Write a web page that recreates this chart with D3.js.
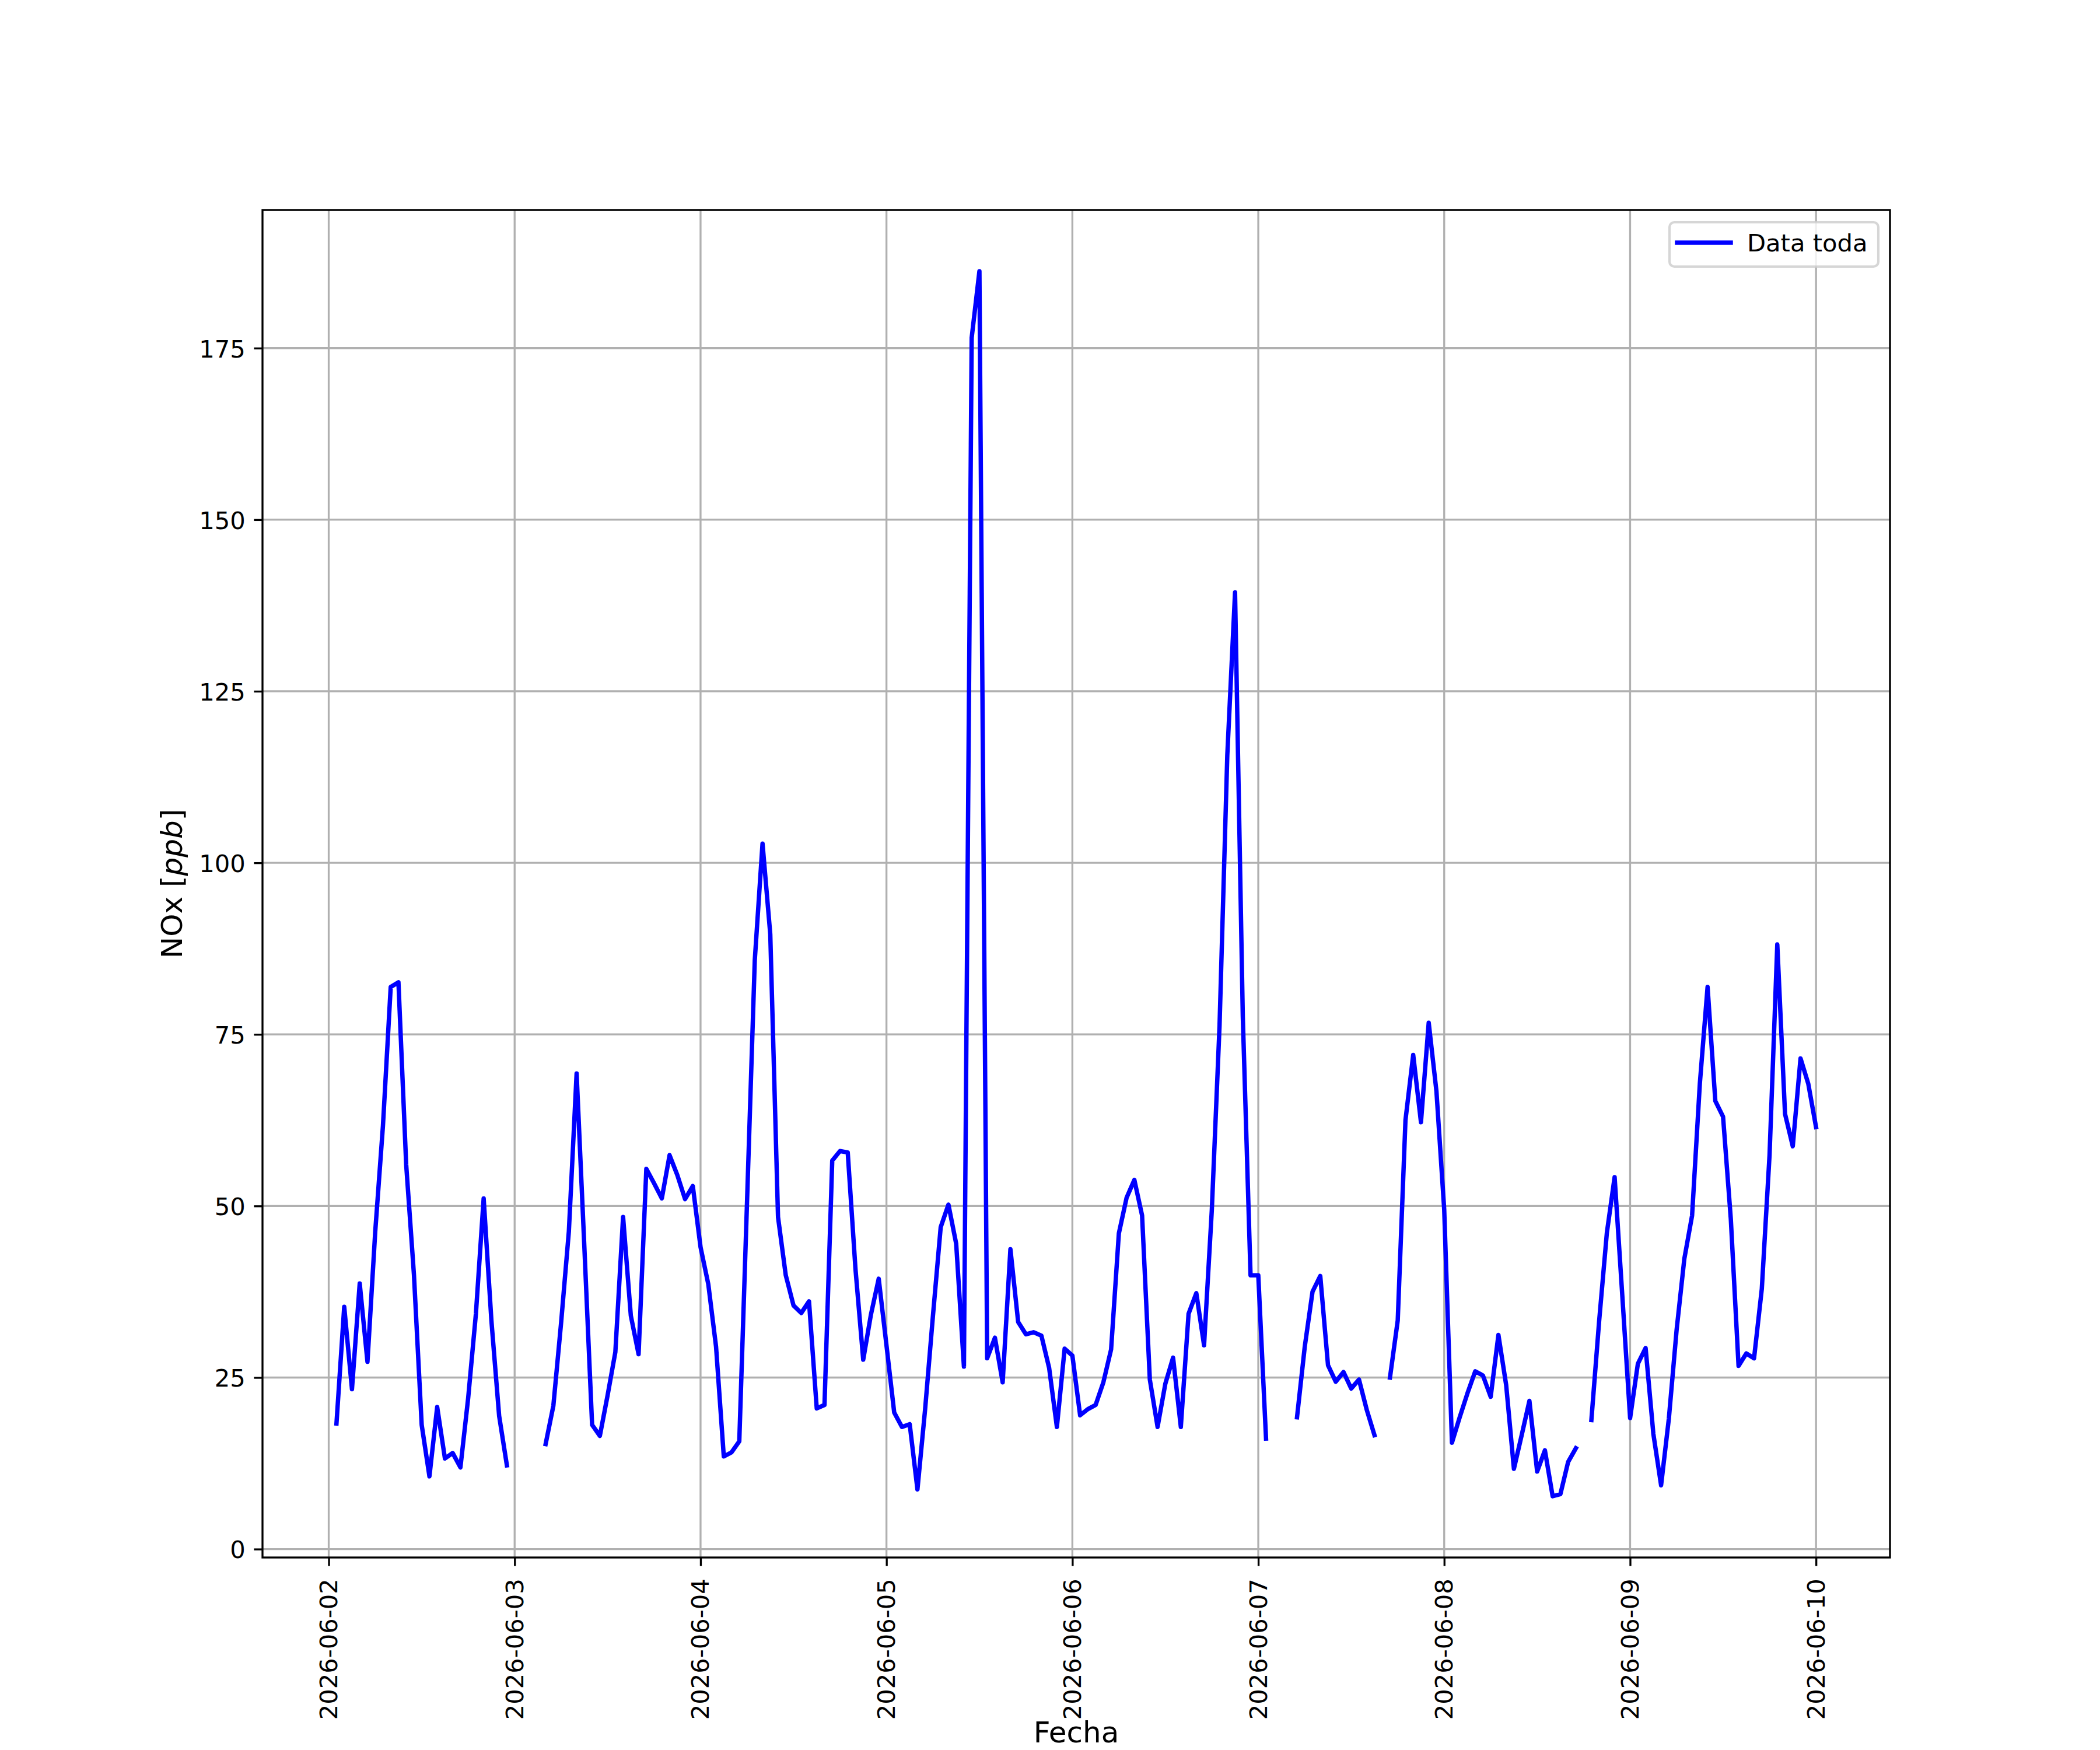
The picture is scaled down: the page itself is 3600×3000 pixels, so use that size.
<!DOCTYPE html>
<html>
<head>
<meta charset="utf-8">
<script src="https://cdn.jsdelivr.net/npm/d3@7"></script>
<style>
  body { margin: 0; background: #fff; }
  text { font-family: "DejaVu Sans", sans-serif; }
</style>
</head>
<body>
<script>
// hourly NOx readings, one array per day (hour 0..23), null = missing hour
const days = ["2026-06-02", "2026-06-03", "2026-06-04", "2026-06-05",
              "2026-06-06", "2026-06-07", "2026-06-08", "2026-06-09", "2026-06-10"];
const nox_0602 = [null, 18.3, 35.3, 23.3, 38.7, 27.3, 46.2, 61.7, 81.9, 82.6, 56.0, 40.0,
                  18.1, 10.6, 20.7, 13.2, 14.0, 11.9, 22.0, 34.3, 51.1, 33.3, 19.4, 12.2];
const nox_0603 = [null, null, null, null, 15.3, 20.9, 33.0, 46.3, 69.3, 44.0, 18.1, 16.5,
                  22.4, 28.7, 48.4, 34.0, 28.4, 55.4, 53.3, 51.1, 57.4, 54.5, 51.0, 52.9];
const nox_0604 = [44.0, 38.6, 29.5, 13.5, 14.1, 15.7, 50.6, 85.8, 102.8, 89.6, 48.4, 39.9,
                  35.5, 34.4, 36.1, 20.5, 21.0, 56.6, 58.0, 57.8, 40.8, 27.6, 34.2, 39.4];
const nox_0605 = [29.7, 19.9, 17.8, 18.2, 8.7, 20.5, 34.0, 46.9, 50.2, 44.5, 26.6, 176.5,
                  186.2, 27.8, 30.8, 24.3, 43.7, 33.1, 31.3, 31.6, 31.1, 26.4, 17.8, 29.2];
const nox_0606 = [28.2, 19.5, 20.4, 21.0, 24.3, 29.1, 46.0, 51.2, 53.8, 48.6, 24.7, 17.8,
                  24.1, 27.9, 17.8, 34.3, 37.3, 29.7, 49.4, 76.3, 115.7, 139.4, 77.6, 39.9];
const nox_0607 = [39.9, 16.1, null, null, null, 19.2, 29.5, 37.5, 39.8, 26.8, 24.4, 25.8,
                  23.4, 24.7, 20.3, 16.6, null, 25.0, 33.3, 62.5, 72.0, 62.2, 76.7, 66.7];
const nox_0608 = [49.5, 15.5, 19.2, 22.7, 25.9, 25.3, 22.2, 31.2, 23.9, 11.7, 16.6, 21.6,
                  11.3, 14.4, 7.7, 8.0, 12.7, 14.7, null, 18.8, 33.2, 46.1, 54.2, 36.8];
const nox_0609 = [19.1, 27.0, 29.3, 16.8, 9.3, 19.0, 31.9, 42.3, 48.6, 67.8, 81.9, 65.3,
                  63.0, 48.1, 26.7, 28.5, 27.8, 37.9, 57.4, 88.1, 63.4, 58.7, 71.5, 67.8];
const nox_0610 = [61.5];
const yTicks = [0, 25, 50, 75, 100, 125, 150, 175];
const seriesName = "Data toda";

const W = 3600, H = 3000;
const mLeft = 450, mRight = 3240, mTop = 360, mBottom = 2670;
const fs = 41.67;          // 10pt @ 300 dpi
const fsLabel = 50;        // 12pt @ 300 dpi
const lw = 3.33;           // 0.8pt
const tickLen = 14.6, tickPad = 14.6;

let series = [];
[nox_0602, nox_0603, nox_0604, nox_0605, nox_0606, nox_0607, nox_0608, nox_0609, nox_0610]
  .forEach((arr, d) => arr.forEach((v, h) => {
    series.push({t: new Date(Date.UTC(2026, 5, 2 + d, h)), v: v});
  }));
let valid = series.filter(d => d.v !== null);

let svg = d3.select("body").append("svg")
  .attr("width", W).attr("height", H)
  .attr("viewBox", `0 0 ${W} ${H}`);
svg.append("rect").attr("width", W).attr("height", H).attr("fill", "#fff");

// scales (matplotlib style 5% margins)
let tExt = d3.extent(valid, d => +d.t);
let tPad = (tExt[1] - tExt[0]) * 0.05;
let x = d3.scaleUtc().domain([new Date(tExt[0] - tPad), new Date(tExt[1] + tPad)]).range([mLeft, mRight]);
let vExt = d3.extent(valid, d => d.v);
let vPad = (vExt[1] - vExt[0]) * 0.05;
let y = d3.scaleLinear().domain([vExt[0] - vPad, vExt[1] + vPad]).range([mBottom, mTop]);

let dayDates = days.map(s => new Date(s + "T00:00:00Z"));

// gridlines
let grid = svg.append("g").attr("class", "grid")
  .attr("stroke", "#b0b0b0").attr("stroke-width", lw);
grid.selectAll("line.gx").data(dayDates).enter().append("line")
  .attr("x1", d => x(d)).attr("x2", d => x(d))
  .attr("y1", mTop).attr("y2", mBottom);
grid.selectAll("line.gy").data(yTicks).enter().append("line")
  .attr("x1", mLeft).attr("x2", mRight)
  .attr("y1", d => y(d)).attr("y2", d => y(d));

// data line
let line = d3.line()
  .defined(d => d.v !== null)
  .x(d => x(d.t))
  .y(d => y(d.v));
svg.append("path").datum(series)
  .attr("d", line)
  .attr("fill", "none")
  .attr("stroke", "#0000ff")
  .attr("stroke-width", 7.5)
  .attr("stroke-linejoin", "round")
  .attr("stroke-linecap", "square");

// x axis
let axX = svg.append("g").attr("transform", `translate(0, ${mBottom})`)
  .call(d3.axisBottom(x).tickValues(dayDates)
    .tickFormat(d3.utcFormat("%Y-%m-%d"))
    .tickSize(tickLen).tickSizeOuter(0));
axX.select(".domain").remove();
axX.selectAll(".tick line").attr("stroke", "#000").attr("stroke-width", lw);
axX.selectAll(".tick text")
  .attr("x", null).attr("y", null).attr("dy", null)
  .attr("fill", "#000")
  .style("font-size", fs + "px")
  .style("font-family", "DejaVu Sans")
  .attr("text-anchor", "end")
  .attr("transform", `translate(14, ${tickLen + tickPad + 7}) rotate(-90)`);

// y axis
let axY = svg.append("g").attr("transform", `translate(${mLeft}, 0)`)
  .call(d3.axisLeft(y).tickValues(yTicks)
    .tickFormat(d3.format("d"))
    .tickSize(tickLen).tickPadding(tickPad).tickSizeOuter(0));
axY.select(".domain").remove();
axY.selectAll(".tick line").attr("stroke", "#000").attr("stroke-width", lw);
axY.selectAll(".tick text")
  .attr("dy", 15.3)
  .attr("fill", "#000")
  .style("font-size", fs + "px")
  .style("font-family", "DejaVu Sans");

// spines
svg.append("rect")
  .attr("x", mLeft).attr("y", mTop)
  .attr("width", mRight - mLeft).attr("height", mBottom - mTop)
  .attr("fill", "none").attr("stroke", "#000").attr("stroke-width", lw);

// axis labels
svg.append("text")
  .attr("x", (mLeft + mRight) / 2).attr("y", 2987)
  .attr("text-anchor", "middle")
  .style("font-size", fsLabel + "px")
  .text("Fecha");

let yl = svg.append("text")
  .attr("transform", `translate(311.7, ${(mTop + mBottom) / 2}) rotate(-90)`)
  .attr("text-anchor", "middle")
  .style("font-size", fsLabel + "px");
yl.append("tspan").text("NOx [");
yl.append("tspan").style("font-style", "italic").text("ppb");
yl.append("tspan").text("]");

// legend
let lg = svg.append("g").attr("class", "legend");
lg.append("rect")
  .attr("x", 2862).attr("y", 381)
  .attr("width", 358).attr("height", 76)
  .attr("rx", 8.3).attr("ry", 8.3)
  .attr("fill", "#fff").attr("fill-opacity", 0.8)
  .attr("stroke", "#cccccc").attr("stroke-opacity", 0.8)
  .attr("stroke-width", 4.17);
lg.append("line")
  .attr("x1", 2875).attr("x2", 2967)
  .attr("y1", 416).attr("y2", 416)
  .attr("stroke", "#0000ff").attr("stroke-width", 7.5)
  .attr("stroke-linecap", "square");
lg.append("text")
  .attr("x", 2995).attr("y", 431)
  .style("font-size", fs + "px")
  .text(seriesName);
</script>
</body>
</html>
